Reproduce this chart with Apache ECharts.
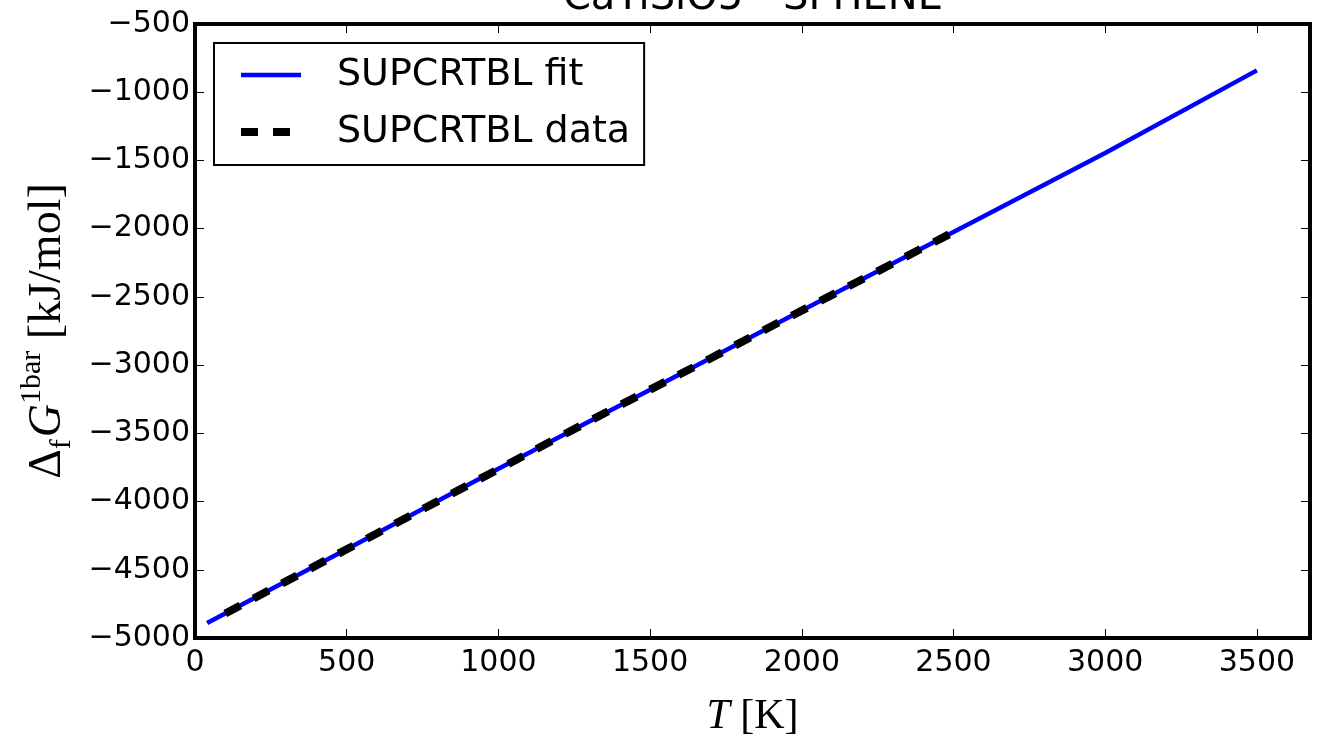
<!DOCTYPE html>
<html>
<head>
<meta charset="utf-8">
<script src="https://cdn.jsdelivr.net/npm/echarts@6/dist/echarts.min.js"></script>
<style>html,body{margin:0;padding:0;background:#fff;}#chart{width:1317px;height:746px;}</style>
</head>
<body>
<div id="chart"></div>
<script>
// Data
var fitT = [40, 500, 1000, 1500, 2000, 2500, 3000, 3500];
var fitG = [-4890, -4350, -3760, -3180, -2600, -2025, -1445, -840];
var dataT = [100, 300, 500, 700, 900, 1100, 1300, 1500, 1700, 1900, 2100, 2300, 2500];
var dataG = [-4820, -4585, -4350, -4115, -3880, -3645, -3410, -3180, -2950, -2715, -2485, -2255, -2025];
var xTicks = [0, 500, 1000, 1500, 2000, 2500, 3000, 3500];
var yTicks = [-5000, -4500, -4000, -3500, -3000, -2500, -2000, -1500, -1000, -500];
var titleText = 'CaTiSiO5 - SPHENE';
var seriesNames = ['SUPCRTBL fit', 'SUPCRTBL data'];

function pairs(xs, ys) { return xs.map(function (x, i) { return [x, ys[i]]; }); }
function fmtNum(v) { return v < 0 ? '\u2212' + Math.abs(v) : String(v); }

var chart = echarts.init(document.getElementById('chart'), null, {renderer: 'canvas'});
var FONT = 'DejaVu Sans';
var SERIF = 'Liberation Serif';

var baseX = {
  type: 'value', min: 0, max: 3675, interval: 500,
  splitLine: {show: false},
  axisLine: {show: true, onZero: false, lineStyle: {color: '#000', width: 4, cap: 'square'}},
  axisTick: {show: true, inside: true, length: 9, lineStyle: {color: '#000', width: 1}}
};
var baseY = {
  type: 'value', min: -5000, max: -500, interval: 500,
  splitLine: {show: false},
  axisLine: {show: true, onZero: false, lineStyle: {color: '#000', width: 4, cap: 'square'}},
  axisTick: {show: true, inside: true, length: 9, lineStyle: {color: '#000', width: 1}}
};

var fitLine = {color: '#0000ff', width: 4.5};
var dataLine = {color: '#000', width: 8, type: [17, 15]};

var option = {
  backgroundColor: '#fff',
  animation: false,
  title: {
    text: titleText, left: 753, top: -21, textAlign: 'center', padding: 0,
    textStyle: {fontFamily: FONT, fontSize: 40, fontWeight: 'normal', color: '#000'}
  },
  grid: {left: 195, right: 7, top: 24, bottom: 108, containLabel: false, outerBoundsMode: 'none'},
  legend: {
    data: [
      {name: seriesNames[0], lineStyle: fitLine, itemStyle: {opacity: 0}},
      {name: seriesNames[1], lineStyle: dataLine, itemStyle: {opacity: 0}}
    ],
    orient: 'vertical', left: 214, top: 43,
    backgroundColor: '#fff', borderColor: '#000', borderWidth: 2, borderRadius: 0,
    padding: [13, 14, 14, 23], itemWidth: 60, itemHeight: 20, itemGap: 19,
    itemStyle: {opacity: 0},
    textStyle: {fontFamily: FONT, fontSize: 38, color: '#000', padding: [0, 0, 0, 31]}
  },
  xAxis: [
    Object.assign({}, baseX, {
      position: 'bottom',
      axisLabel: {show: true, color: '#000', fontFamily: FONT, fontSize: 30, margin: 10,
        formatter: function (v) { return xTicks.indexOf(v) >= 0 ? fmtNum(v) : ''; }},
      name: '{i|T}{r| [K]}', nameLocation: 'middle', nameGap: 58,
      nameTextStyle: {rich: {
        i: {fontFamily: SERIF, fontStyle: 'italic', fontSize: 42, color: '#000'},
        r: {fontFamily: SERIF, fontSize: 42, color: '#000'}
      }}
    }),
    Object.assign({}, baseX, {position: 'top', axisLabel: {show: false}})
  ],
  yAxis: [
    Object.assign({}, baseY, {
      position: 'left',
      axisLabel: {show: true, color: '#000', fontFamily: FONT, fontSize: 30, margin: 5,
        formatter: function (v) { return yTicks.indexOf(v) >= 0 ? fmtNum(v) : ''; }},
      name: '{a|\u0394}{s|f}{i|G}{p|1bar}{a| [kJ/mol]}', nameLocation: 'middle', nameGap: 117, nameRotate: 90,
      nameTextStyle: {rich: {
        a: {fontFamily: SERIF, fontSize: 46, color: '#000', lineHeight: 60},
        i: {fontFamily: SERIF, fontStyle: 'italic', fontSize: 46, color: '#000', lineHeight: 60},
        s: {fontFamily: SERIF, fontSize: 30, color: '#000', verticalAlign: 'bottom', lineHeight: 30, padding: [0, 2, 0, 0]},
        p: {fontFamily: SERIF, fontSize: 30, color: '#000', verticalAlign: 'top', lineHeight: 30}
      }}
    }),
    Object.assign({}, baseY, {position: 'right', axisLabel: {show: false}})
  ],
  series: [
    {
      name: seriesNames[0], type: 'line', xAxisIndex: 0, yAxisIndex: 0,
      data: pairs(fitT, fitG), symbol: 'none', showSymbol: false, z: 2,
      lineStyle: fitLine, itemStyle: {color: '#0000ff'}
    },
    {
      name: seriesNames[1], type: 'line', xAxisIndex: 0, yAxisIndex: 0,
      data: pairs(dataT, dataG), symbol: 'none', showSymbol: false, z: 3,
      lineStyle: dataLine, itemStyle: {color: '#000'}
    }
  ]
};
chart.setOption(option);
</script>
</body>
</html>
